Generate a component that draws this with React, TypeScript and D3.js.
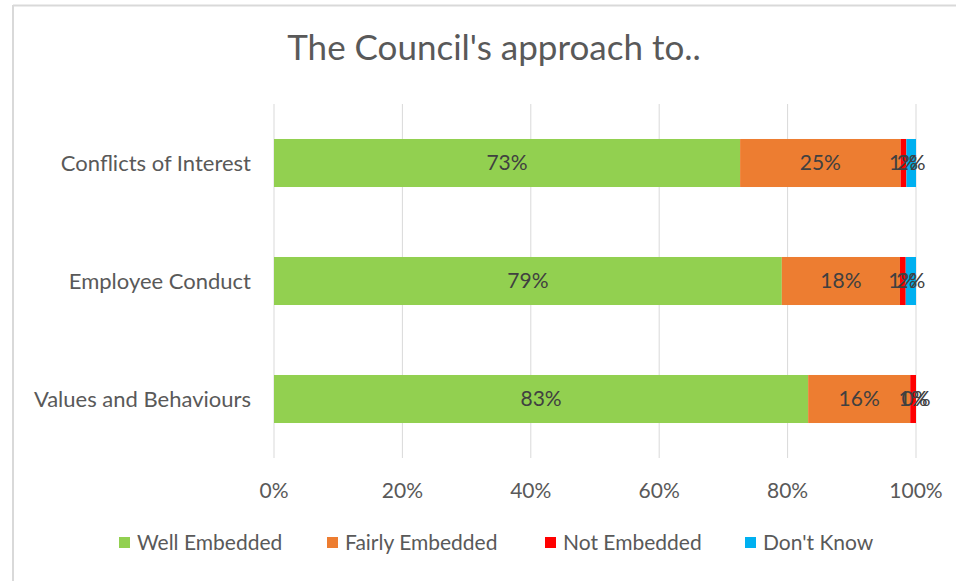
import React from "react";
import * as d3 from "d3";

const categories = ["Conflicts of Interest", "Employee Conduct", "Values and Behaviours"];
const seriesNames = ["Well Embedded", "Fairly Embedded", "Not Embedded", "Don't Know"];
const wellEmbedded = [72.6, 79.1, 83.2];
const fairlyEmbedded = [25.0, 18.4, 15.9];
const notEmbedded = [0.9, 0.9, 0.9];
const dontKnow = [1.5, 1.6, 0];
const colors = ["#92D050", "#ED7D31", "#FF0000", "#00B0F0"];
const tickValues = [0, 20, 40, 60, 80, 100];

const W = 956;
const H = 581;
const FONT = "Lato, 'Open Sans', sans-serif";

export default function App() {
  const series = [wellEmbedded, fairlyEmbedded, notEmbedded, dontKnow];
  const x = d3.scaleLinear().domain([0, 100]).range([274, 916]);
  const y = d3.scaleBand<string>().domain(categories).range([104, 458]).paddingInner(0.593).paddingOuter(0.2965);
  const bw = y.bandwidth();

  const rows = categories.map((c, i) => {
    let acc = 0;
    return series.map((s, k) => {
      const v = s[i];
      const seg = { cat: c, k, v, x0: acc, x1: acc + v };
      acc += v;
      return seg;
    });
  });

  const legendX = [119, 327, 545, 745];

  return (
    <svg width={W} height={H} style={{ position: "absolute", left: 0, top: 0, background: "#fff" }} fontFamily={FONT}>
      <rect x={0} y={0} width={W} height={H} fill="#fff" />
      <line x1={13} y1={5.5} x2={W} y2={5.5} stroke="#d9d9d9" strokeWidth={2} />
      <line x1={13} y1={5} x2={13} y2={H} stroke="#d9d9d9" strokeWidth={2} />
      <text x={494} y={60} textAnchor="middle" fontSize={35} fill="#595959">
        The Council's approach to..
      </text>
      {tickValues.map((t) => (
        <g key={t}>
          <line x1={x(t)} x2={x(t)} y1={104} y2={458} stroke="#d9d9d9" strokeWidth={1} />
          <text x={x(t)} y={491} dy="0.35em" textAnchor="middle" fontSize={21} fill="#595959">
            {t}%
          </text>
        </g>
      ))}
      {categories.map((c) => (
        <text key={c} x={251} y={(y(c) as number) + bw / 2} dy="0.35em" textAnchor="end" fontSize={22} fill="#595959">
          {c}
        </text>
      ))}
      {rows.map((segs) =>
        segs.map((s) => (
          <rect
            key={s.cat + s.k}
            x={x(s.x0)}
            y={y(s.cat)}
            width={Math.max(0, x(s.x1) - x(s.x0))}
            height={bw}
            fill={colors[s.k]}
          />
        ))
      )}
      {rows.map((segs) =>
        segs.map((s) => (
          <text
            key={"l" + s.cat + s.k}
            x={(x(s.x0) + x(s.x1)) / 2}
            y={(y(s.cat) as number) + bw / 2}
            dy="0.35em"
            textAnchor="middle"
            fontSize={21}
            fill="#404040"
          >
            {Math.round(s.v)}%
          </text>
        ))
      )}
      {seriesNames.map((n, k) => (
        <g key={n}>
          <rect x={legendX[k]} y={537} width={11} height={11} fill={colors[k]} />
          <text x={legendX[k] + 18} y={543} dy="0.35em" fontSize={21} fill="#595959">
            {n}
          </text>
        </g>
      ))}
    </svg>
  );
}
